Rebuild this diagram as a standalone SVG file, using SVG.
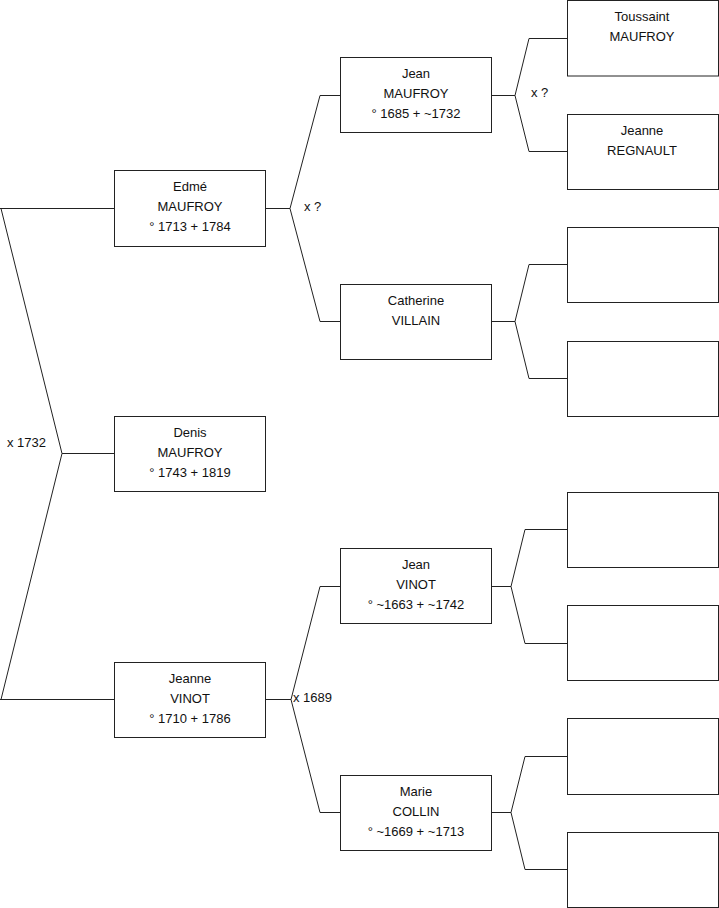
<svg xmlns="http://www.w3.org/2000/svg" width="719" height="908" viewBox="0 0 719 908">
<style>
.box{fill:#fff;stroke:#222;stroke-width:1}
.ln{fill:none;stroke:#222;stroke-width:1}
text{font-family:"Liberation Sans",Arial,sans-serif;font-size:13px;fill:#111}
.c{text-anchor:middle}
</style>
<rect width="719" height="908" fill="#fff"/>
<g id="connectors">
<path class="ln" d="M0,208.5H114M0,699.5H114M1,208.5L62,453.5L1,699.5M62,453.5H114"/>
<path class="ln" d="M265,208.5H290M320,95.5L290,208.5L320,321.5M320,95.5H340M320,321.5H340"/>
<path class="ln" d="M265,699.5H291M320,586.5L291,699.5L320,812.5M320,586.5H340M320,812.5H340"/>
<path class="ln" d="M491,95.5H515M529,38.5L515,95.5L529,151.5M529,38.5H567M529,151.5H567"/>
<path class="ln" d="M491,321.5H515M529,264.5L515,321.5L529,378.5M529,264.5H567M529,378.5H567"/>
<path class="ln" d="M491,586.5H511M525,529.5L511,586.5L525,643.5M525,529.5H567M525,643.5H567"/>
<path class="ln" d="M491,812.5H511M525,756.5L511,812.5L525,869.5M525,756.5H567M525,869.5H567"/>
<text x="7" y="447">x 1732</text>
<text x="304" y="211">x ?</text>
<text x="531" y="97">x ?</text>
<text x="293" y="702">x 1689</text>
</g>
<g id="edme">
<rect class="box" x="114.5" y="170.5" width="151" height="76"/>
<text class="c" x="190" y="191">Edmé</text>
<text class="c" x="190" y="211">MAUFROY</text>
<text class="c" x="190" y="231">° 1713 + 1784</text>
</g>
<g id="denis">
<rect class="box" x="114.5" y="416.5" width="151" height="75"/>
<text class="c" x="190" y="437">Denis</text>
<text class="c" x="190" y="457">MAUFROY</text>
<text class="c" x="190" y="477">° 1743 + 1819</text>
</g>
<g id="jeanne-vinot">
<rect class="box" x="114.5" y="662.5" width="151" height="75"/>
<text class="c" x="190" y="683">Jeanne</text>
<text class="c" x="190" y="703">VINOT</text>
<text class="c" x="190" y="723">° 1710 + 1786</text>
</g>
<g id="jean-maufroy">
<rect class="box" x="340.5" y="57.5" width="151" height="75"/>
<text class="c" x="416" y="78">Jean</text>
<text class="c" x="416" y="98">MAUFROY</text>
<text class="c" x="416" y="118">° 1685 + ~1732</text>
</g>
<g id="catherine-villain">
<rect class="box" x="340.5" y="284.5" width="151" height="75"/>
<text class="c" x="416" y="305">Catherine</text>
<text class="c" x="416" y="325">VILLAIN</text>
</g>
<g id="jean-vinot">
<rect class="box" x="340.5" y="548.5" width="151" height="75"/>
<text class="c" x="416" y="569">Jean</text>
<text class="c" x="416" y="589">VINOT</text>
<text class="c" x="416" y="609">° ~1663 + ~1742</text>
</g>
<g id="marie-collin">
<rect class="box" x="340.5" y="775.5" width="151" height="75"/>
<text class="c" x="416" y="796">Marie</text>
<text class="c" x="416" y="816">COLLIN</text>
<text class="c" x="416" y="836">° ~1669 + ~1713</text>
</g>
<g id="toussaint-maufroy">
<rect class="box" x="567.5" y="0.5" width="151" height="75.5"/>
<text class="c" x="642" y="21">Toussaint</text>
<text class="c" x="642" y="41">MAUFROY</text>
</g>
<g id="jeanne-regnault">
<rect class="box" x="567.5" y="114.5" width="151" height="75"/>
<text class="c" x="642" y="135">Jeanne</text>
<text class="c" x="642" y="155">REGNAULT</text>
</g>
<g id="unknown-1"><rect class="box" x="567.5" y="227.5" width="151" height="75"/></g>
<g id="unknown-2"><rect class="box" x="567.5" y="341.5" width="151" height="75"/></g>
<g id="unknown-3"><rect class="box" x="567.5" y="492.5" width="151" height="75"/></g>
<g id="unknown-4"><rect class="box" x="567.5" y="605.5" width="151" height="75"/></g>
<g id="unknown-5"><rect class="box" x="567.5" y="718.5" width="151" height="76"/></g>
<g id="unknown-6"><rect class="box" x="567.5" y="832.5" width="151" height="75"/></g>
</svg>
